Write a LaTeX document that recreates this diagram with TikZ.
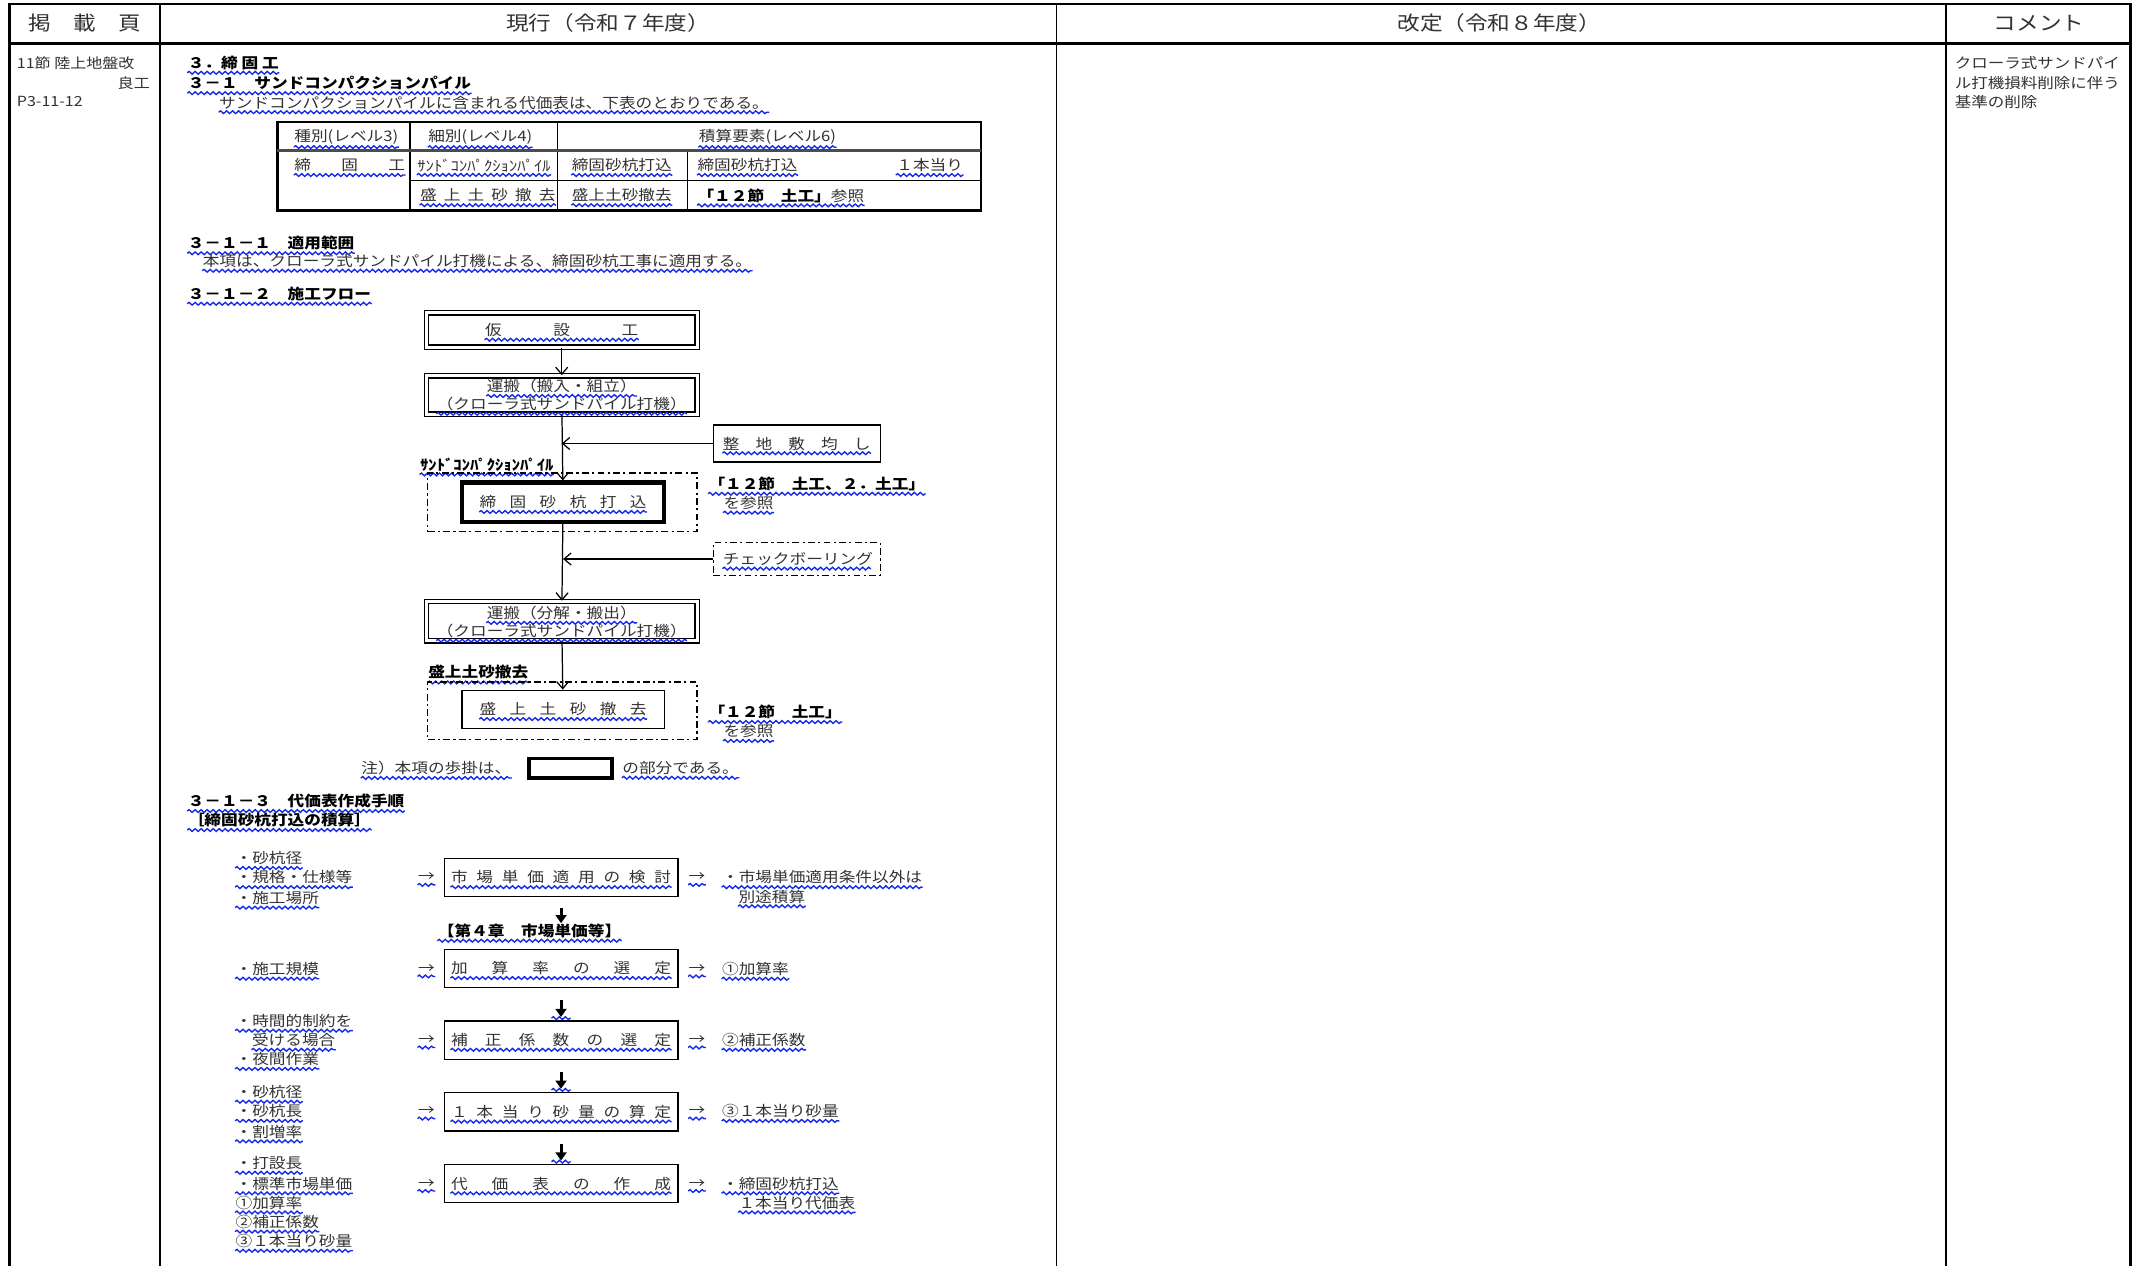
\documentclass[tikz,border=0pt]{standalone}
\usepackage{fontspec}
\setmainfont{Noto Sans CJK JP}
\newfontfamily\jn{Noto Sans CJK JP}[FakeStretch=1.15]
\usetikzlibrary{decorations.pathmorphing,arrows.meta}
\definecolor{wblue}{RGB}{20,40,235}
\definecolor{txt}{RGB}{50,50,50}
\newcommand\fs[1]{\fontsize{#1}{#1}\selectfont}
\newcommand\spr[2]{\makebox[#1][s]{#2}}
\tikzset{
  wline/.style={draw=wblue, line width=0.5pt, decorate, decoration={snake, amplitude=0.5pt, segment length=2.2pt}},
  wv/.style={append after command={([yshift=-0.9pt]\tikzlastnode.south west) edge[wline] ([yshift=-0.9pt]\tikzlastnode.south east)}},
  tx/.style={anchor=west, inner sep=0pt, text=txt, font=\jn\fs{5.3}},
  hd/.style={anchor=west, inner sep=0pt, text=black, font=\jn\fs{5.3}\bfseries},
  sm/.style={anchor=west, inner sep=0pt, text=txt, font=\jn\fs{5.1}},
  hdr/.style={inner sep=0pt, text=txt, font=\jn\fs{7.2}},
  box/.style={draw, inner sep=0pt, line width=0.45pt},
  dbox/.style={box, double, double distance=1.1pt, minimum width=99pt},
  dd/.style={draw, inner sep=0pt, line width=0.45pt, dash pattern=on 2.5pt off 1.2pt on 0.8pt off 1.2pt},
  pbox/.style={box, minimum width=85.5pt, minimum height=14pt},
  ar/.style={-{Straight Barb[length=2.6pt,width=4.4pt]}, line width=0.45pt},
  bar/.style={-{Triangle[length=3pt,width=4pt]}, line width=1.1pt},
}
\begin{document}
\begin{tikzpicture}[x=0.5pt,y=-0.5pt]
\useasboundingbox (0,0) rectangle (1568,926);
\fill[white] (0,0) rectangle (1568,926);
% ---- frame ----
\draw[line width=1pt] (7,926) -- (7,3) -- (1559,3) -- (1559,926);
\draw[line width=1pt] (7,32) -- (1559,32);
\draw[line width=0.6pt] (117,3) -- (117,926);
\draw[line width=0.6pt] (773,3) -- (773,926);
\draw[line width=0.6pt] (1424,3) -- (1424,926);
% ---- header ----
\node[hdr] (h1) at (62,17) {掲　載　頁};
\node[hdr] (h2) at (445,17) {現行（令和７年度）};
\node[hdr] (h3) at (1097,17) {改定（令和８年度）};
\node[hdr] (h4) at (1492,17) {コメント};
% ---- left column ----
\node[sm] (l1) at (12,46) {11節 陸上地盤改};
\node[sm,anchor=east] (l2) at (110,61) {良工};
\node[sm] (l3) at (12,74) {P3-11-12};
% ---- comment column ----
\node[sm,font=\jn\fs{5.25}] (c1) at (1430,46) {クローラ式サンドパイ};
\node[sm,font=\jn\fs{5.25}] (c2) at (1430,61) {ル打機損料削除に伴う};
\node[sm,font=\jn\fs{5.25}] (c3) at (1430,75) {基準の削除};
% ---- headings ----
\node[hd,wv] (s1) at (137,46) {３．締 固 工};
\node[hd,wv] (s2) at (137,61) {３－１　サンドコンパクションパイル};
\node[tx,wv] (s3) at (160,75) {サンドコンパクションパイルに含まれる代価表は、下表のとおりである。};
% ---- table ----
\draw[line width=0.8pt] (203,89) rectangle (718,154);
\draw[line width=0.45pt] (300,89) -- (300,154);
\draw[line width=0.45pt] (408,89) -- (408,154);
\draw[line width=0.45pt] (503,110) -- (503,154);
\draw[line width=0.9pt, black!70] (203,110) -- (718,110);
\draw[line width=0.45pt] (300,132) -- (718,132);
\node[tx,wv] (t11) at (215,100) {種別(レベル3)};
\node[tx,wv] (t12) at (313,100) {細別(レベル4)};
\node[tx,wv] (t13) at (511,100) {積算要素(レベル6)};
\node[tx,wv] (t21) at (215,121) {\spr{40.5pt}{締\hfill 固\hfill 工}};
\node[tx,wv] (t22) at (305,121) {ｻﾝﾄﾞｺﾝﾊﾟｸｼｮﾝﾊﾟｲﾙ};
\node[tx,wv] (t23) at (418,121) {締固砂杭打込};
\node[tx,wv] (t24) at (510,121) {締固砂杭打込};
\node[tx,wv,anchor=east] (t25) at (705,121) {１本当り};
\node[tx,wv] (t32) at (307,143) {\spr{49.5pt}{盛\hfill 上\hfill 土\hfill 砂\hfill 撤\hfill 去}};
\node[tx,wv] (t33) at (418,143) {盛上土砂撤去};
\node[tx,wv] (t34) at (510,143) {{\bfseries\color{black}「１２節　土工」}参照};
% ---- 3-1-1 / 3-1-2 ----
\node[hd,wv] (s4) at (137,178) {３－１－１　適用範囲};
\node[tx,wv] (s5) at (148,191) {本項は、クローラ式サンドパイル打機による、締固砂杭工事に適用する。};
\node[hd,wv] (s6) at (137,215) {３－１－２　施工フロー};
% ---- flow ----
\node[dbox, minimum height=12.5pt] (f1) at (411,241.5) {};
\node[tx,wv,anchor=center] (f1t) at (f1.center) {\spr{56pt}{仮\hfill 設\hfill 工}};
\node[dbox, minimum height=14pt] (f2) at (411,289) {};
\node[tx,wv,anchor=center] (f2a) at (411,282.5) {運搬（搬入・組立）};
\node[tx,wv,anchor=center] (f2b) at (411,295.5) {（クローラ式サンドパイル打機）};
\node[box, minimum width=61pt, minimum height=13.5pt] (sd1) at (583,324.5) {};
\node[tx,wv,anchor=center] (sd1t) at (sd1.center) {\spr{54pt}{整\hfill 地\hfill 敷\hfill 均\hfill し}};
\node[hd,wv] (lb1) at (307,340) {ｻﾝﾄﾞｺﾝﾊﾟｸｼｮﾝﾊﾟｲﾙ};
\node[dd, minimum width=98.5pt, minimum height=21.5pt] (fr1) at (411.5,367.5) {};
\node[box, line width=1.5pt, minimum width=74pt, minimum height=14.5pt] (fc) at (412,367.5) {};
\node[tx,wv,anchor=center] (fct) at (fc.center) {\spr{61pt}{締\hfill 固\hfill 砂\hfill 杭\hfill 打\hfill 込}};
\node[hd,wv] (r1) at (518,354) {「１２節　土工、２．土工」};
\node[tx,wv] (r1b) at (529,368) {を参照};
\node[dd, minimum width=61pt, minimum height=12pt] (sd2) at (583,409) {};
\node[tx,wv,anchor=center] (sd2t) at (sd2.center) {\spr{54pt}{チ\hfill ェ\hfill ッ\hfill ク\hfill ボ\hfill ー\hfill リ\hfill ン\hfill グ}};
\node[dbox, minimum height=14.5pt] (f4) at (411,454.5) {};
\node[tx,wv,anchor=center] (f4a) at (411,448.5) {運搬（分解・搬出）};
\node[tx,wv,anchor=center] (f4b) at (411,461.5) {（クローラ式サンドパイル打機）};
\node[hd,wv] (lb2) at (313,492) {盛上土砂撤去};
\node[dd, minimum width=98.5pt, minimum height=21pt] (fr2) at (411.5,520) {};
\node[box, minimum width=74pt, minimum height=14pt] (f5) at (412,519) {};
\node[tx,wv,anchor=center] (f5t) at (f5.center) {\spr{61pt}{盛\hfill 上\hfill 土\hfill 砂\hfill 撤\hfill 去}};
\node[hd,wv] (r2) at (518,521) {「１２節　土工」};
\node[tx,wv] (r2b) at (529,535) {を参照};
\draw[ar] (f1) -- (f2);
\draw[ar] (f2) -- (fc);
\draw[ar] (fc) -- (f4);
\draw[ar] (f4) -- (f5);
\draw[ar] (sd1.west) -- (sd1.west -| f2.south);
\draw[ar] (sd2.west) -- (sd2.west -| fc.south);
% ---- note ----
\node[tx,wv] (n1) at (264,562) {注）本項の歩掛は、};
\node[box, line width=1.4pt, minimum width=30.5pt, minimum height=7pt] (nb) at (417.5,562) {};
\node[tx,wv] (n2) at (455,562) {の部分である。};
% ---- 3-1-3 ----
\node[hd,wv] (s7) at (137,586) {３－１－３　代価表作成手順};
\node[hd,wv] (s8) at (137,600) {［締固砂杭打込の積算］};
% procedure boxes
\node[pbox] (p1) at (410.5,642) {};
\node[pbox] (p2) at (410.5,708.5) {};
\node[pbox] (p3) at (410.5,761) {};
\node[pbox] (p4) at (410.5,813.5) {};
\node[pbox] (p5) at (410.5,866) {};
\node[tx,wv,anchor=center] (p1t) at (p1.center) {\spr{80.5pt}{市\hfill 場\hfill 単\hfill 価\hfill 適\hfill 用\hfill の\hfill 検\hfill 討}};
\node[tx,wv,anchor=center] (p2t) at (p2.center) {\spr{80.5pt}{加\hfill 算\hfill 率\hfill の\hfill 選\hfill 定}};
\node[tx,wv,anchor=center] (p3t) at (p3.center) {\spr{80.5pt}{補\hfill 正\hfill 係\hfill 数\hfill の\hfill 選\hfill 定}};
\node[tx,wv,anchor=center] (p4t) at (p4.center) {\spr{80.5pt}{１\hfill 本\hfill 当\hfill り\hfill 砂\hfill 量\hfill の\hfill 算\hfill 定}};
\node[tx,wv,anchor=center] (p5t) at (p5.center) {\spr{80.5pt}{代\hfill 価\hfill 表\hfill の\hfill 作\hfill 成}};
\node[hd,wv] (ch4) at (320,681) {【第４章　市場単価等】};
% arrows between procedure boxes
\draw[bar, shorten <=4pt] (p1.south) -- (p1.south |- ch4.north);
\draw[bar, shorten <=4.5pt, shorten >=1.2pt] (p2) -- (p3);
\draw[bar, shorten <=4.5pt, shorten >=1.2pt] (p3) -- (p4);
\draw[bar, shorten <=4.5pt, shorten >=1.2pt] (p4) -- (p5);
\draw[wline] ([xshift=-3.5pt,yshift=0.8pt]p3.north) -- ([xshift=3.5pt,yshift=0.8pt]p3.north);
\draw[wline] ([xshift=-3.5pt,yshift=0.8pt]p4.north) -- ([xshift=3.5pt,yshift=0.8pt]p4.north);
\draw[wline] ([xshift=-3.5pt,yshift=0.8pt]p5.north) -- ([xshift=3.5pt,yshift=0.8pt]p5.north);
% arrow marks
\node[tx,wv,anchor=center] (a1l) at (312,642) {→};
\node[tx,wv,anchor=center] (a1r) at (510,642) {→};
\node[tx,wv,anchor=center] (a2l) at (312,709) {→};
\node[tx,wv,anchor=center] (a2r) at (510,709) {→};
\node[tx,wv,anchor=center] (a3l) at (312,761) {→};
\node[tx,wv,anchor=center] (a3r) at (510,761) {→};
\node[tx,wv,anchor=center] (a4l) at (312,813) {→};
\node[tx,wv,anchor=center] (a4r) at (510,813) {→};
\node[tx,wv,anchor=center] (a5l) at (312,866) {→};
\node[tx,wv,anchor=center] (a5r) at (510,866) {→};
% left items
\node[tx,wv] (q1) at (172,628) {・砂杭径};
\node[tx,wv] (q2) at (172,642) {・規格・仕様等};
\node[tx,wv] (q3) at (172,657) {・施工場所};
\node[tx,wv] (q4) at (172,709) {・施工規模};
\node[tx,wv] (q5) at (172,747) {・時間的制約を};
\node[tx,wv] (q6) at (184,761) {受ける場合};
\node[tx,wv] (q7) at (172,775) {・夜間作業};
\node[tx,wv] (q8) at (172,799) {・砂杭径};
\node[tx,wv] (q9) at (172,813) {・砂杭長};
\node[tx,wv] (q10) at (172,828) {・割増率};
\node[tx,wv] (q11) at (172,851) {・打設長};
\node[tx,wv] (q12) at (172,866) {・標準市場単価};
\node[tx,wv] (q13) at (172,880) {①加算率};
\node[tx,wv] (q14) at (172,894) {②補正係数};
\node[tx,wv] (q15) at (172,908) {③１本当り砂量};
% right items
\node[tx,wv] (o1) at (528,642) {・市場単価適用条件以外は};
\node[tx,wv] (o2) at (540,656) {別途積算};
\node[tx,wv] (o3) at (528,709) {①加算率};
\node[tx,wv] (o4) at (528,761) {②補正係数};
\node[tx,wv] (o5) at (528,813) {③１本当り砂量};
\node[tx,wv] (o6) at (528,866) {・締固砂杭打込};
\node[tx,wv] (o7) at (540,880) {１本当り代価表};
\end{tikzpicture}
\end{document}
